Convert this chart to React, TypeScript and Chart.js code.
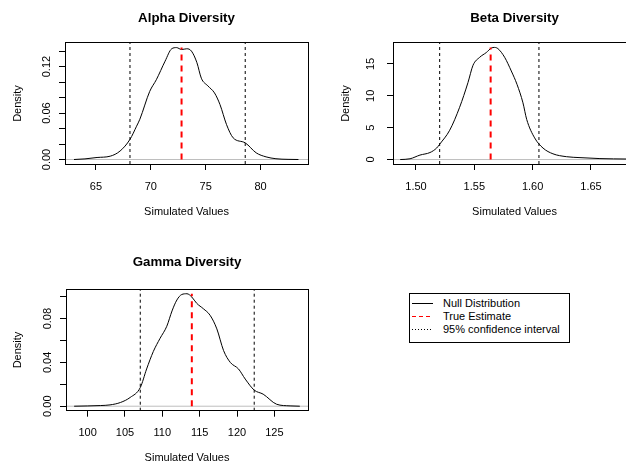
import React, { useEffect, useRef } from 'react';
import { Chart, registerables } from 'chart.js';

Chart.register(...registerables);

const FONT = '"Liberation Sans", Arial, Helvetica, sans-serif';

// ---------- Alpha Diversity ----------
const alphaX = [63.0, 64.0, 65.1, 66.3, 67.2, 68.1, 68.7, 69.0, 69.9, 70.5, 71.3, 71.9, 72.35, 72.8, 73.27, 73.7, 74.2, 74.6, 75.2, 75.8, 76.3, 76.9, 77.5, 78.6, 79.6, 80.5, 81.4, 82.5, 83.45];
const alphaDensity = [0, 0.0008, 0.0026, 0.0043, 0.011, 0.026, 0.043, 0.052, 0.088, 0.103, 0.127, 0.143, 0.1445, 0.142, 0.143, 0.14, 0.125, 0.105, 0.095, 0.086, 0.071, 0.045, 0.028, 0.0215, 0.0086, 0.0034, 0.001, 0.0002, 0];
const alphaCI = [68.1, 78.6];
const alphaTrue = 72.8;
const alphaXTicks = [65, 70, 75, 80];
const alphaXLabels = ['65', '70', '75', '80'];
const alphaYTicks = [0, 0.02, 0.04, 0.06, 0.08, 0.1, 0.12, 0.14];
const alphaYLabels = ['0.00', '', '', '0.06', '', '', '0.12', ''];
const alphaXRange = [62.18, 84.32];
const alphaYRange = [-0.0058, 0.1505];

// ---------- Beta Diversity ----------
const betaX = [1.4865, 1.4949, 1.5034, 1.512, 1.5177, 1.5203, 1.5289, 1.5374, 1.5446, 1.5489, 1.5546, 1.5603, 1.5646, 1.5674, 1.5703, 1.576, 1.5817, 1.5866, 1.5917, 1.5949, 1.6017, 1.6089, 1.6174, 1.6289, 1.6406, 1.6577, 1.681];
const betaDensity = [0, 0.12, 0.7, 1.1, 1.8, 2.4, 4.6, 8.2, 12.1, 14.8, 16.05, 16.8, 17.5, 17.6, 17.4, 16.05, 13.9, 11.8, 8.9, 6.3, 3.4, 1.8, 0.9, 0.45, 0.3, 0.15, 0.08];
const betaCI = [1.5203, 1.6054];
const betaTrue = 1.564;
const betaXTicks = [1.5, 1.55, 1.6, 1.65];
const betaXLabels = ['1.50', '1.55', '1.60', '1.65'];
const betaYTicks = [0, 5, 10, 15];
const betaYLabels = ['0', '5', '10', '15'];
const betaXRange = [1.4803, 1.6886];
const betaYRange = [-0.7, 18.3];

// ---------- Gamma Diversity ----------
const gammaX = [98.2, 101.7, 103.0, 104.4, 105.7, 107.05, 107.9, 108.8, 109.7, 110.6, 111.3, 111.95, 112.6, 113.3, 113.95, 114.6, 115.5, 116.4, 117.3, 118.2, 119.1, 120.2, 121.1, 122.3, 123.5, 125.3, 127.1, 128.4];
const gammaDensity = [0, 0.0006, 0.0012, 0.0034, 0.008, 0.017, 0.034, 0.05, 0.062, 0.073, 0.087, 0.097, 0.102, 0.1027, 0.0997, 0.094, 0.089, 0.083, 0.0706, 0.0508, 0.04, 0.034, 0.0248, 0.0147, 0.011, 0.0018, 0.0003, 0];
const gammaCI = [107.05, 122.3];
const gammaTrue = 113.95;
const gammaXTicks = [100, 105, 110, 115, 120, 125];
const gammaXLabels = ['100', '105', '110', '115', '120', '125'];
const gammaYTicks = [0, 0.02, 0.04, 0.06, 0.08, 0.1];
const gammaYLabels = ['0.00', '', '0.04', '', '0.08', ''];
const gammaXRange = [97.11, 129.5];
const gammaYRange = [-0.0041, 0.1068];

// ---------- Legend ----------
const legendLabels = ['Null Distribution', 'True Estimate', '95% confidence interval'];
const legendColors = ['#000000', '#FF0000', '#000000'];
const legendDash = ['', '4 3', '1 2'];

const boxPlugin = {
  id: 'rbox',
  afterDraw(chart: any) {
    const { ctx, chartArea: a } = chart;
    const al = (v: number) => Math.round(v - 0.5) + 0.5;
    ctx.save();
    ctx.strokeStyle = '#000';
    ctx.lineWidth = 1;
    ctx.setLineDash([]);
    ctx.strokeRect(al(a.left), al(a.top), al(a.right) - al(a.left), al(a.bottom) - al(a.top));
    ctx.restore();
  },
};

type PanelProps = {
  left: number; top: number; width: number; height: number;
  title: string; titleTop: number; titleBottom: number;
  yAxisWidth: number; xAxisHeight: number; rightPad: number;
  yTitlePad: number; yTickPad: number;
  xs: number[]; ys: number[]; ci: number[]; trueVal: number;
  xTicks: number[]; xLabels: string[]; yTicks: number[]; yLabels: string[];
  xRange: number[]; yRange: number[];
};

function Panel(p: PanelProps) {
  const ref = useRef<HTMLCanvasElement | null>(null);
  useEffect(() => {
    if (!ref.current) return;
    const pts = p.xs.map((x, i) => ({ x, y: p.ys[i] }));
    const peak = Math.max(...p.ys);
    const grid = { drawOnChartArea: false, drawTicks: true, tickLength: 6, color: '#000', tickColor: '#000', lineWidth: 1 };
    const border = { display: true, color: '#000', width: 1 };
    const chart = new Chart(ref.current, {
      type: 'line',
      data: {
        datasets: [
          { data: [{ x: p.trueVal, y: 0 }, { x: p.trueVal, y: peak }], borderColor: '#FF0000', borderWidth: 2, borderDash: [6, 5], pointRadius: 0, tension: 0 },
          { data: [{ x: p.ci[0], y: p.yRange[0] }, { x: p.ci[0], y: p.yRange[1] }], borderColor: '#000', borderWidth: 1, borderDash: [3, 3], pointRadius: 0, tension: 0 },
          { data: [{ x: p.ci[1], y: p.yRange[0] }, { x: p.ci[1], y: p.yRange[1] }], borderColor: '#000', borderWidth: 1, borderDash: [3, 3], pointRadius: 0, tension: 0 },
          { data: pts, borderColor: '#000', borderWidth: 1, pointRadius: 0, cubicInterpolationMode: 'monotone' },
          { data: [{ x: p.xRange[0], y: 0 }, { x: p.xRange[1], y: 0 }], borderColor: '#BEBEBE', borderWidth: 1, pointRadius: 0, tension: 0 },
        ],
      } as any,
      options: {
        animation: false,
        responsive: false,
        events: [],
        layout: { padding: { left: 0, top: 0, right: p.rightPad, bottom: 0 } },
        plugins: {
          legend: { display: false },
          tooltip: { enabled: false },
          title: {
            display: true, text: p.title, color: '#000', fullSize: false,
            font: { family: FONT, size: 13.3, weight: 'bold' },
            padding: { top: p.titleTop, bottom: p.titleBottom },
          },
        },
        scales: {
          x: {
            type: 'linear', min: p.xRange[0], max: p.xRange[1], bounds: 'data',
            afterBuildTicks: (s: any) => { s.ticks = p.xTicks.map((v) => ({ value: v })); },
            afterFit: (s: any) => { s.height = p.xAxisHeight; },
            ticks: {
              autoSkip: false, minRotation: 0, maxRotation: 0, padding: 10, color: '#000',
              font: { family: FONT, size: 11 },
              callback: (v: any) => { const i = p.xTicks.findIndex((t) => Math.abs(t - v) < 1e-9); return i >= 0 ? p.xLabels[i] : ''; },
            },
            grid, border,
            title: { display: true, text: 'Simulated Values', color: '#000', font: { family: FONT, size: 11 }, padding: { top: 0, bottom: 13.4 } },
          },
          y: {
            type: 'linear', min: p.yRange[0], max: p.yRange[1], bounds: 'data',
            afterBuildTicks: (s: any) => { s.ticks = p.yTicks.map((v) => ({ value: v })); },
            afterFit: (s: any) => { s.width = p.yAxisWidth; },
            ticks: {
              autoSkip: false, minRotation: 90, maxRotation: 90, crossAlign: 'center', padding: p.yTickPad, color: '#000',
              font: { family: FONT, size: 11 },
              callback: (v: any) => { const i = p.yTicks.findIndex((t) => Math.abs(t - v) < 1e-9); return i >= 0 ? p.yLabels[i] : ''; },
            },
            grid, border,
            title: { display: true, text: 'Density', color: '#000', font: { family: FONT, size: 11 }, padding: { top: p.yTitlePad, bottom: 0 } },
          },
        },
      } as any,
      plugins: [boxPlugin],
    });
    return () => chart.destroy();
  }, []);
  return (
    <canvas ref={ref} width={p.width} height={p.height}
      style={{ position: 'absolute', left: p.left, top: p.top, width: p.width, height: p.height }} />
  );
}

function Legend() {
  const centers = [303, 316, 329];
  return (
    <>
      <div style={{ position: 'absolute', left: 409, top: 293, width: 161, height: 50, border: '1px solid #000', boxSizing: 'border-box' }} />
      {legendLabels.map((lab, i) => (
        <React.Fragment key={lab}>
          <svg width={22} height={4} style={{ position: 'absolute', left: 412, top: centers[i] - 2 }}>
            <line x1={0} y1={2.5} x2={21} y2={2.5} stroke={legendColors[i]} strokeWidth={1} strokeDasharray={legendDash[i] || undefined} />
          </svg>
          <div style={{ position: 'absolute', left: 443, top: centers[i] - 6.85, fontFamily: FONT, fontSize: 11, lineHeight: '14px', color: '#000', whiteSpace: 'nowrap' }}>{lab}</div>
        </React.Fragment>
      ))}
    </>
  );
}

export default function App() {
  useEffect(() => { document.body.style.margin = '0'; }, []);
  return (
    <div style={{ position: 'relative', width: 626, height: 464, overflow: 'hidden', background: '#fff' }}>
      <Panel left={0} top={0} width={313} height={232} title="Alpha Diversity" titleTop={10} titleBottom={17}
        yAxisWidth={65} xAxisHeight={68} rightPad={5} yTitlePad={11.7} yTickPad={1.3}
        xs={alphaX} ys={alphaDensity} ci={alphaCI} trueVal={alphaTrue}
        xTicks={alphaXTicks} xLabels={alphaXLabels} yTicks={alphaYTicks} yLabels={alphaYLabels}
        xRange={alphaXRange} yRange={alphaYRange} />
      <Panel left={313} top={0} width={330} height={232} title="Beta Diversity" titleTop={10} titleBottom={17}
        yAxisWidth={80} xAxisHeight={68} rightPad={7} yTitlePad={25.9} yTickPad={9.6}
        xs={betaX} ys={betaDensity} ci={betaCI} trueVal={betaTrue}
        xTicks={betaXTicks} xLabels={betaXLabels} yTicks={betaYTicks} yLabels={betaYLabels}
        xRange={betaXRange} yRange={betaYRange} />
      <Panel left={0} top={246} width={313} height={232} title="Gamma Diversity" titleTop={8.5} titleBottom={18.8}
        yAxisWidth={66} xAxisHeight={67.3} rightPad={5} yTitlePad={11.7} yTickPad={1.2}
        xs={gammaX} ys={gammaDensity} ci={gammaCI} trueVal={gammaTrue}
        xTicks={gammaXTicks} xLabels={gammaXLabels} yTicks={gammaYTicks} yLabels={gammaYLabels}
        xRange={gammaXRange} yRange={gammaYRange} />
      <Legend />
    </div>
  );
}
